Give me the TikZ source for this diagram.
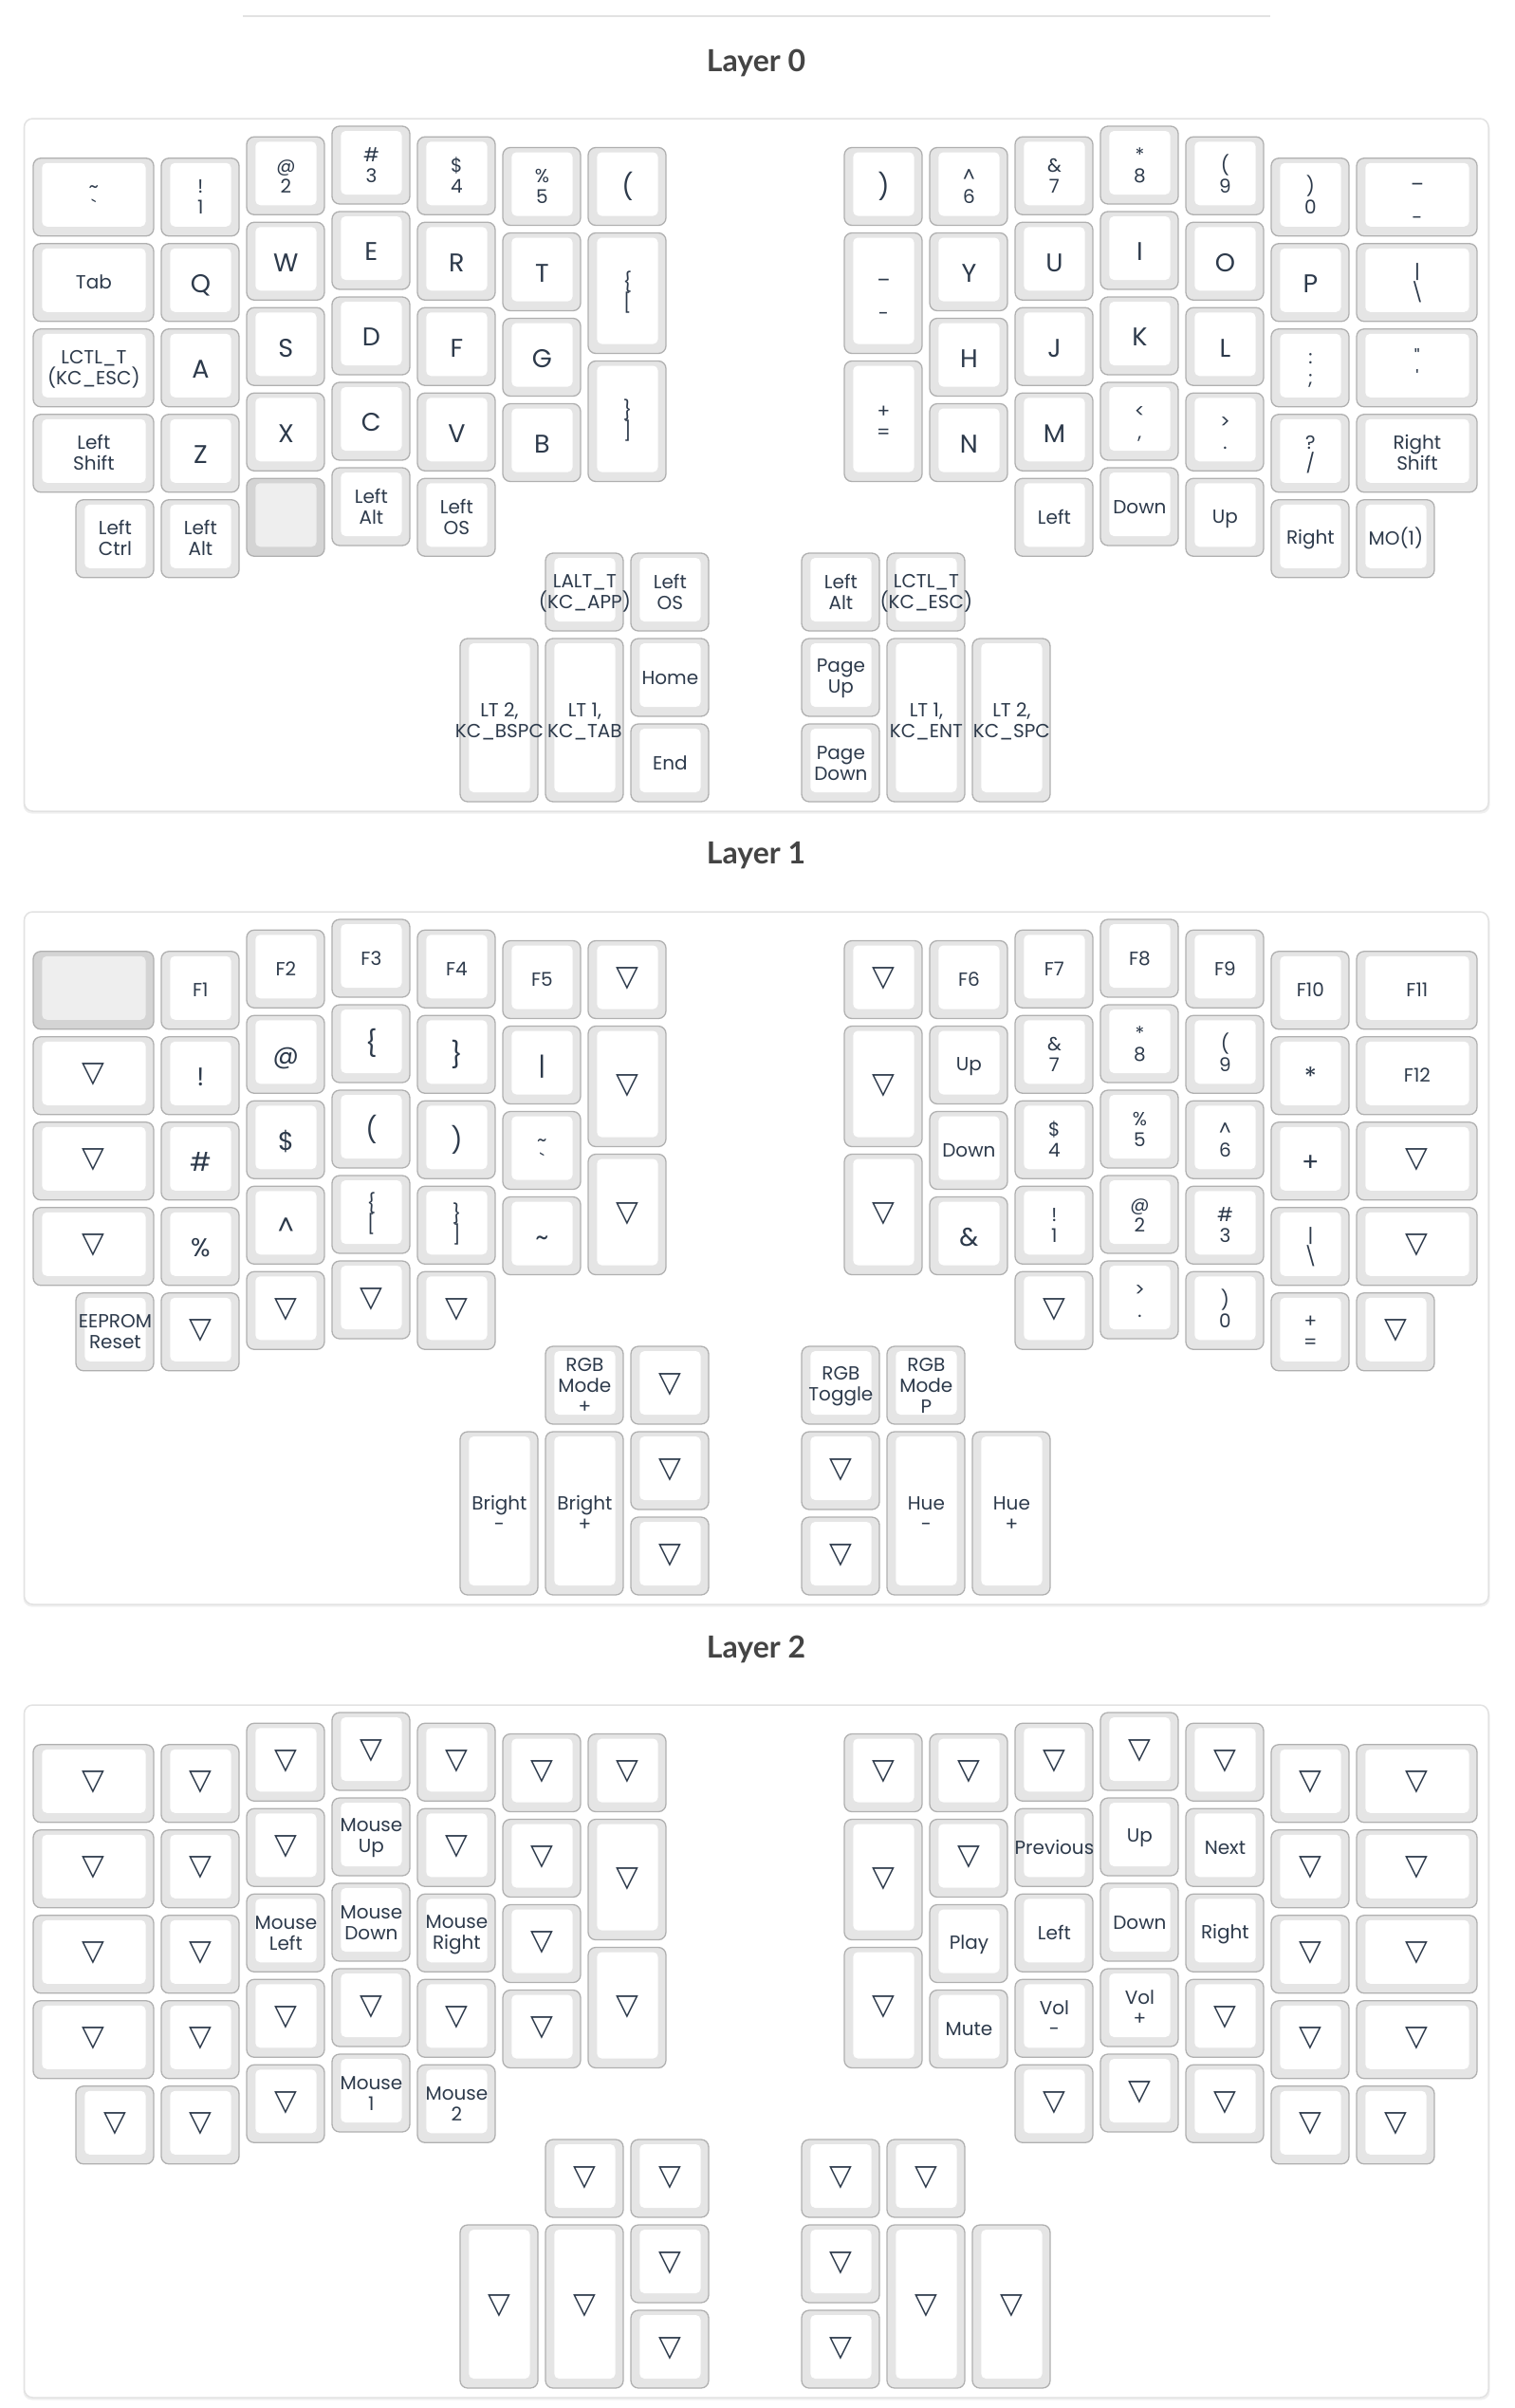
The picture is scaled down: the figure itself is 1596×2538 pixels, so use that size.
\documentclass[tikz,border=0pt]{standalone}
\usepackage{fontspec}
\setmainfont{Poppins}[Ligatures=TeXOff]
\newfontfamily\symfont{DejaVu Sans}
\newfontfamily\headfont{Lato}
\usepackage{tikz}
\definecolor{keyedge}{RGB}{176,176,176}
\definecolor{keyside}{RGB}{229,229,229}
\definecolor{keytext}{RGB}{45,58,75}
\definecolor{blankside}{RGB}{212,212,212}
\definecolor{blanktop}{RGB}{238,238,238}
\definecolor{titlegray}{RGB}{68,68,68}
\definecolor{panelline}{RGB}{226,226,226}

\newcounter{kno}
\newcommand{\kfixlines}{\lineskiplimit=-100pt\relax}
\newcommand{\kstrut}{\vrule width0pt height19pt depth3pt}
\newcommand{\kb}[1]{\fontsize{27}{30}\selectfont\vrule width0pt height27pt depth3.4pt #1}
\newcommand{\kt}{{\symfont\fontsize{31}{33}\selectfont ▽}}

\tikzset{
  keyrim/.style={draw=keyedge, fill=keyside, line width=1.3pt, rounded corners=8pt},
  keytop/.style={fill=white, rounded corners=5pt},
  blankrim/.style={keyrim, fill=blankside},
  blankcap/.style={keytop, fill=blanktop},
  keylbl/.style={text=keytext, align=center, inner sep=0pt,
    font=\fontsize{20}{22}\selectfont\kfixlines},
  dashlbl/.style={yshift=0.5pt},
  panel/.style={draw=panelline, fill=white, line width=1.5pt, rounded corners=9pt},
  layertitle/.style={text=titlegray, inner sep=0pt,
    font=\headfont\bfseries\fontsize{32}{36}\selectfont}
}

% key: [label options] X, Y, width, height, label
\newcommand{\kk}[6][]{%
  \stepcounter{kno}
  \draw[keyrim] ([xshift=4pt,yshift=-4pt]{#2},{#3}) rectangle ([xshift=-4pt,yshift=4pt]{#2+#4},{#3+#5});
  \fill[keytop] ([xshift=13.3pt,yshift=-9pt]{#2},{#3}) rectangle ([xshift=-12.5pt,yshift=14pt]{#2+#4},{#3+#5});
  \node[keylbl,#1] (key\thekno) at ([xshift=0.4pt,yshift=1pt]{#2+#4/2},{#3+#5/2}) {\kstrut#6\kstrut};
}
% empty key: X, Y, width, height
\newcommand{\kblank}[4]{%
  \draw[blankrim] ([xshift=4pt,yshift=-4pt]{#1},{#2}) rectangle ([xshift=-4pt,yshift=4pt]{#1+#3},{#2+#4});
  \fill[blankcap] ([xshift=13.3pt,yshift=-9pt]{#1},{#2}) rectangle ([xshift=-12.5pt,yshift=14pt]{#1+#3},{#2+#4});
}
% column of 1u keys: X, first Y, width, labels
\newcommand{\kcol}[4]{%
  \foreach \lbl [count=\i from 0] in {#4} {\kk{#1}{#2+\i}{#3}{1}{\lbl}}
}

\begin{document}
\begin{tikzpicture}[x=1pt, y=-1pt]
  \useasboundingbox (0,0) rectangle (1596,2538);
  \draw[panelline, line width=2.5pt] (256,17) -- (1339,17);

  %% Layer 0
  \node[layertitle] (title0) at (797,66) {Layer 0};
  \fill[black!6, rounded corners=9pt] (24.5,126.5) rectangle (1570.5,857.5);
  \draw[panel] (25.5,125) rectangle (1569,855);
  \begin{scope}[shift={(31,129)}, x=90pt, y=-90pt]
    \kcol{0}{.375}{1.5}{\textasciitilde\\`,Tab,LCTL\_T\\(KC\_ESC),Left\\Shift}
    \kk{0.5}{4.375}{1}{1}{Left\\Ctrl}
    \kcol{1.5}{.375}{1}{!\\1,\kb{Q},\kb{A},\kb{Z},Left\\Alt}
    \kcol{2.5}{.125}{1}{@\\2,\kb{W},\kb{S},\kb{X}}
    \kblank{2.5}{4.125}{1}{1}
    \kcol{3.5}{0}{1}{\#\\3,\kb{E},\kb{D},\kb{C},Left\\Alt}
    \kcol{4.5}{.125}{1}{\$\\4,\kb{R},\kb{F},\kb{V},Left\\OS}
    \kcol{5.5}{.25}{1}{\%\\5,\kb{T},\kb{G},\kb{B}}
    \kk{6.5}{.25}{1}{1}{\kb{(}}
    \kk{6.5}{1.25}{1}{1.5}{\{\\{[}}
    \kk{6.5}{2.75}{1}{1.5}{\}\\]}
    % left thumb
    \kk{6}{5}{1}{1}{LALT\_T\\(KC\_APP)}
    \kk{7}{5}{1}{1}{Left\\OS}
    \kk{5}{6}{1}{2}{LT 2,\\KC\_BSPC}
    \kk{6}{6}{1}{2}{LT 1,\\KC\_TAB}
    \kk{7}{6}{1}{1}{Home}
    \kk{7}{7}{1}{1}{End}
    % right half
    \kk{9.5}{.25}{1}{1}{\kb{)}}
    \kk[dashlbl]{9.5}{1.25}{1}{1.5}{\_\\[21.5pt]-}
    \kk{9.5}{2.75}{1}{1.5}{+\\=}
    \kcol{10.5}{.25}{1}{\textasciicircum\\6,\kb{Y},\kb{H},\kb{N}}
    \kcol{11.5}{.125}{1}{\&\\7,\kb{U},\kb{J},\kb{M},Left}
    \kcol{12.5}{0}{1}{*\\8,\kb{I},\kb{K},{<\\,},Down}
    \kcol{13.5}{.125}{1}{{(\\9},\kb{O},\kb{L},>\\.,Up}
    \kcol{14.5}{.375}{1}{)\\0,\kb{P},:\\;,?\\/,Right}
    \kk[dashlbl]{15.5}{.375}{1.5}{1}{\_\\[21.5pt]-}
    \kcol{15.5}{1.375}{1.5}{|\\\textbackslash,"\\',Right\\Shift}
    \kk{15.5}{4.375}{1}{1}{MO(1)}
    % right thumb
    \kk{9}{5}{1}{1}{Left\\Alt}
    \kk{10}{5}{1}{1}{LCTL\_T\\(KC\_ESC)}
    \kk{9}{6}{1}{1}{Page\\Up}
    \kk{9}{7}{1}{1}{Page\\Down}
    \kk{10}{6}{1}{2}{LT 1,\\KC\_ENT}
    \kk{11}{6}{1}{2}{LT 2,\\KC\_SPC}
  \end{scope}

  %% Layer 1
  \begin{scope}[yshift=-836pt]
  \node[layertitle] (title1) at (797,66) {Layer 1};
  \fill[black!6, rounded corners=9pt] (24.5,126.5) rectangle (1570.5,857.5);
  \draw[panel] (25.5,125) rectangle (1569,855);
  \begin{scope}[shift={(31,129)}, x=90pt, y=-90pt]
    \kblank{0}{.375}{1.5}{1}
    \kcol{0}{1.375}{1.5}{\kt,\kt,\kt}
    \kk{0.5}{4.375}{1}{1}{EEPROM\\Reset}
    \kcol{1.5}{.375}{1}{F1,\kb{!},\kb{\#},\kb{\%},\kt}
    \kcol{2.5}{.125}{1}{F2,\kb{@},\kb{\$},\kb{\textasciicircum},\kt}
    \kcol{3.5}{0}{1}{F3,\kb{\{},\kb{(},\{\\{[},\kt}
    \kcol{4.5}{.125}{1}{F4,\kb{\}},\kb{)},\}\\],\kt}
    \kcol{5.5}{.25}{1}{F5,\kb{|},\textasciitilde\\`,\kb{\textasciitilde}}
    \kk{6.5}{.25}{1}{1}{\kt}
    \kk{6.5}{1.25}{1}{1.5}{\kt}
    \kk{6.5}{2.75}{1}{1.5}{\kt}
    % left thumb
    \kk{6}{5}{1}{1}{RGB\\Mode\\+}
    \kk{7}{5}{1}{1}{\kt}
    \kk{5}{6}{1}{2}{Bright\\-}
    \kk{6}{6}{1}{2}{Bright\\+}
    \kk{7}{6}{1}{1}{\kt}
    \kk{7}{7}{1}{1}{\kt}
    % right half
    \kk{9.5}{.25}{1}{1}{\kt}
    \kk{9.5}{1.25}{1}{1.5}{\kt}
    \kk{9.5}{2.75}{1}{1.5}{\kt}
    \kcol{10.5}{.25}{1}{F6,Up,Down,\kb{\&}}
    \kcol{11.5}{.125}{1}{F7,\&\\7,\$\\4,!\\1,\kt}
    \kcol{12.5}{0}{1}{F8,*\\8,\%\\5,@\\2,>\\.}
    \kcol{13.5}{.125}{1}{F9,{(\\9},\textasciicircum\\6,\#\\3,)\\0}
    \kcol{14.5}{.375}{1}{F10,\kb{*},\kb{+},|\\\textbackslash,+\\=}
    \kcol{15.5}{.375}{1.5}{F11,F12,\kt,\kt}
    \kk{15.5}{4.375}{1}{1}{\kt}
    % right thumb
    \kk{9}{5}{1}{1}{RGB\\Toggle}
    \kk{10}{5}{1}{1}{RGB\\Mode\\P}
    \kk{9}{6}{1}{1}{\kt}
    \kk{9}{7}{1}{1}{\kt}
    \kk{10}{6}{1}{2}{Hue\\-}
    \kk{11}{6}{1}{2}{Hue\\+}
  \end{scope}
  \end{scope}

  %% Layer 2
  \begin{scope}[yshift=-1672pt]
  \node[layertitle] (title2) at (797,66) {Layer 2};
  \fill[black!6, rounded corners=9pt] (24.5,126.5) rectangle (1570.5,857.5);
  \draw[panel] (25.5,125) rectangle (1569,855);
  \begin{scope}[shift={(31,129)}, x=90pt, y=-90pt]
    \kcol{0}{.375}{1.5}{\kt,\kt,\kt,\kt}
    \kk{0.5}{4.375}{1}{1}{\kt}
    \kcol{1.5}{.375}{1}{\kt,\kt,\kt,\kt,\kt}
    \kcol{2.5}{.125}{1}{\kt,\kt,Mouse\\Left,\kt,\kt}
    \kcol{3.5}{0}{1}{\kt,Mouse\\Up,Mouse\\Down,\kt,Mouse\\1}
    \kcol{4.5}{.125}{1}{\kt,\kt,Mouse\\Right,\kt,Mouse\\2}
    \kcol{5.5}{.25}{1}{\kt,\kt,\kt,\kt}
    \kk{6.5}{.25}{1}{1}{\kt}
    \kk{6.5}{1.25}{1}{1.5}{\kt}
    \kk{6.5}{2.75}{1}{1.5}{\kt}
    % left thumb
    \kk{6}{5}{1}{1}{\kt}
    \kk{7}{5}{1}{1}{\kt}
    \kk{5}{6}{1}{2}{\kt}
    \kk{6}{6}{1}{2}{\kt}
    \kk{7}{6}{1}{1}{\kt}
    \kk{7}{7}{1}{1}{\kt}
    % right half
    \kk{9.5}{.25}{1}{1}{\kt}
    \kk{9.5}{1.25}{1}{1.5}{\kt}
    \kk{9.5}{2.75}{1}{1.5}{\kt}
    \kcol{10.5}{.25}{1}{\kt,\kt,Play,Mute}
    \kcol{11.5}{.125}{1}{\kt,Previous,Left,Vol\\-,\kt}
    \kcol{12.5}{0}{1}{\kt,Up,Down,Vol\\+,\kt}
    \kcol{13.5}{.125}{1}{\kt,Next,Right,\kt,\kt}
    \kcol{14.5}{.375}{1}{\kt,\kt,\kt,\kt,\kt}
    \kcol{15.5}{.375}{1.5}{\kt,\kt,\kt,\kt}
    \kk{15.5}{4.375}{1}{1}{\kt}
    % right thumb
    \kk{9}{5}{1}{1}{\kt}
    \kk{10}{5}{1}{1}{\kt}
    \kk{9}{6}{1}{1}{\kt}
    \kk{9}{7}{1}{1}{\kt}
    \kk{10}{6}{1}{2}{\kt}
    \kk{11}{6}{1}{2}{\kt}
  \end{scope}
  \end{scope}
\end{tikzpicture}
\end{document}
